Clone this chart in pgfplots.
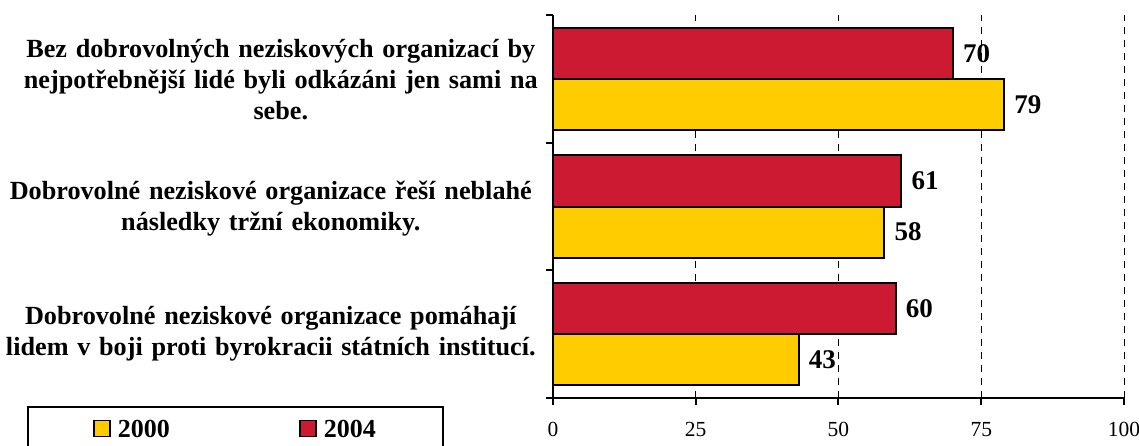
\documentclass[border=0pt]{standalone}
\usepackage{pgfplots}
\pgfplotsset{compat=1.18}
\usepackage{fontspec}
\setmainfont{Liberation Serif}
\definecolor{cred}{RGB}{204,26,51}
\definecolor{cyel}{RGB}{255,204,0}
\begin{document}
\begin{tikzpicture}
\begin{axis}[
  at={(0,0)}, anchor=south west,
  width=571pt, height=383pt, scale only axis,
  clip=false,
  xmin=0, xmax=100, ymin=-0.5, ymax=2.5,
  xbar, bar width=0.4,
  axis x line*=bottom, axis y line*=left,
  axis line style={line width=2.2pt},
  xtick={0,25,50,75,100},
  ytick={-0.5,0.5,1.5,2.5}, yticklabels={},
  tick align=outside, major tick length=7pt,
  tick style={line width=2pt, black},
  xmajorgrids, major grid style={dashed, dash pattern=on 7pt off 6pt, line width=1pt, black},
  /pgf/number format/assume math mode=true,
  xticklabel style={font=\fontsize{21.5}{24}\selectfont, yshift=-14pt},
  nodes near coords,
  nodes near coords style={font=\bfseries\fontsize{27}{30}\selectfont, black, xshift=6pt},
  legend columns=2,
  legend style={at={(axis description cs:-0.9212,-0.021)}, anchor=north west,
    draw=black, line width=2pt, inner xsep=65pt, inner ysep=11pt,
    font=\bfseries\fontsize{26}{30}\selectfont,
    /tikz/every even column/.append style={column sep=127pt}},
  legend image code/.code={\draw[#1, line width=1.8pt] (0pt,-7pt) rectangle (16pt,9pt); \path (21pt,0pt);},
]
\addplot[fill=cyel, draw=black, line width=2pt, bar shift=-0.2] coordinates {(79,2) (58,1) (43,0)};
\addplot[fill=cred, draw=black, line width=2pt, bar shift=0.2] coordinates {(70,2) (61,1) (60,0)};
\legend{2000,2004}
\begin{scope}[every node/.style={anchor=east, text width=540pt, align=center, inner sep=0pt, font=\bfseries\fontsize{26.2}{31}\selectfont}]
\node[xshift=-2pt, yshift=-1pt] at (axis cs:0,2) {Bez dobrovolných neziskových organizací by\\nejpotřebnější lidé byli odkázáni jen sami na\\sebe.};
\node[xshift=-12pt, yshift=-2pt] at (axis cs:0,1) {Dobrovolné neziskové organizace řeší neblahé\\následky tržní ekonomiky.};
\node[xshift=-12pt] at (axis cs:0,0) {Dobrovolné neziskové organizace pomáhají\\lidem v boji proti byrokracii státních institucí.};
\end{scope}
\end{axis}
\pgfresetboundingbox
\path[use as bounding box] ([shift={(-553pt,-47pt)}]current axis.south west) rectangle ([shift={(586pt,398pt)}]current axis.south west);
\end{tikzpicture}
\end{document}
